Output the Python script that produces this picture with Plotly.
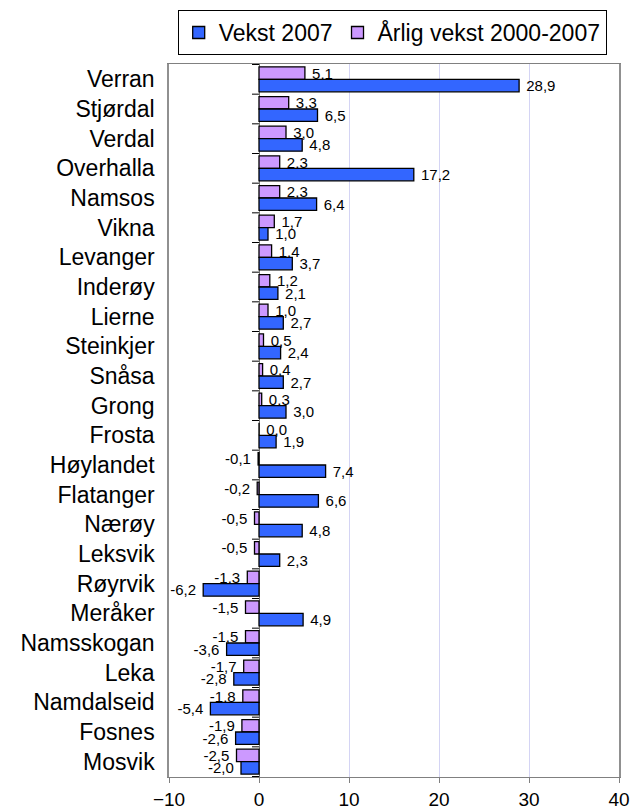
import plotly.graph_objects as go

kommuner = [
    "Verran", "Stjørdal", "Verdal", "Overhalla", "Namsos", "Vikna", "Levanger",
    "Inderøy", "Lierne", "Steinkjer", "Snåsa", "Grong", "Frosta", "Høylandet",
    "Flatanger", "Nærøy", "Leksvik", "Røyrvik", "Meråker", "Namsskogan", "Leka",
    "Namdalseid", "Fosnes", "Mosvik",
]
vekst_2007 = [
    28.9, 6.5, 4.8, 17.2, 6.4, 1.0, 3.7, 2.1, 2.7, 2.4, 2.7, 3.0, 1.9, 7.4,
    6.6, 4.8, 2.3, -6.2, 4.9, -3.6, -2.8, -5.4, -2.6, -2.0,
]
aarlig_vekst = [
    5.1, 3.3, 3.0, 2.3, 2.3, 1.7, 1.4, 1.2, 1.0, 0.5, 0.4, 0.3, 0.0, -0.1,
    -0.2, -0.5, -0.5, -1.3, -1.5, -1.5, -1.7, -1.8, -1.9, -2.5,
]
x_ticks = [-10, 0, 10, 20, 30, 40]

FONT = "Liberation Sans, Arial, sans-serif"
NBSP = "\u00a0"


def label_templates(values):
    # pad the side facing the bar end so labels sit a little off the bar
    return [NBSP + "%{x:.1f}" if v >= 0 else "%{x:.1f}" + NBSP for v in values]


fig = go.Figure()
# purple first so it sits above the blue bar in each group (reversed axis)
fig.add_trace(
    go.Bar(
        y=kommuner,
        x=aarlig_vekst,
        orientation="h",
        name="Årlig vekst 2000-2007",
        marker=dict(color="#CC99FF", line=dict(color="black", width=1.3)),
        texttemplate=label_templates(aarlig_vekst),
        textposition="outside",
        constraintext="none",
        cliponaxis=False,
        textfont=dict(size=15, color="black", family=FONT),
        legendrank=2,
    )
)
fig.add_trace(
    go.Bar(
        y=kommuner,
        x=vekst_2007,
        orientation="h",
        name="Vekst 2007",
        marker=dict(color="#3366FF", line=dict(color="black", width=1.3)),
        texttemplate=label_templates(vekst_2007),
        textposition="outside",
        constraintext="none",
        cliponaxis=False,
        textfont=dict(size=15, color="black", family=FONT),
        legendrank=1,
    )
)

# category tick marks on the zero line
shapes = []
for i in range(len(kommuner) + 1):
    shapes.append(
        dict(
            type="line", xref="x", yref="y", xsizemode="pixel", xanchor=0,
            x0=-7, x1=0, y0=i - 0.5, y1=i - 0.5,
            line=dict(color="black", width=1),
        )
    )

# the page body adds an 8px offset, margins account for it
fig.update_layout(
    width=636,
    height=803,
    separators=", ",
    barmode="group",
    bargap=0.16,
    bargroupgap=0,
    plot_bgcolor="white",
    paper_bgcolor="white",
    font=dict(family=FONT, color="black"),
    margin=dict(l=161, r=25, t=56, b=34, autoexpand=False),
    shapes=shapes,
    legend=dict(
        orientation="h",
        x=0.496,
        xanchor="center",
        y=1.0757,
        yanchor="top",
        bordercolor="black",
        borderwidth=1,
        font=dict(size=23, family=FONT),
        itemwidth=30,
        tracegroupgap=0,
    ),
    xaxis=dict(
        range=[-10, 40],
        tickvals=x_ticks,
        showgrid=True,
        gridcolor="#D4D4F4",
        zeroline=True,
        zerolinecolor="#707070",
        zerolinewidth=1,
        showline=True,
        linecolor="#808080",
        mirror=True,
        ticks="outside",
        ticklen=5,
        tickcolor="#808080",
        tickfont=dict(size=19, family=FONT),
        automargin=False,
    ),
    yaxis=dict(
        autorange="reversed",
        showline=True,
        linecolor="#909090",
        linewidth=1.5,
        mirror=True,
        ticks="",
        ticklabelstandoff=8,
        tickfont=dict(size=23, family=FONT),
        automargin=False,
    ),
)

fig.write_html("out.html")
